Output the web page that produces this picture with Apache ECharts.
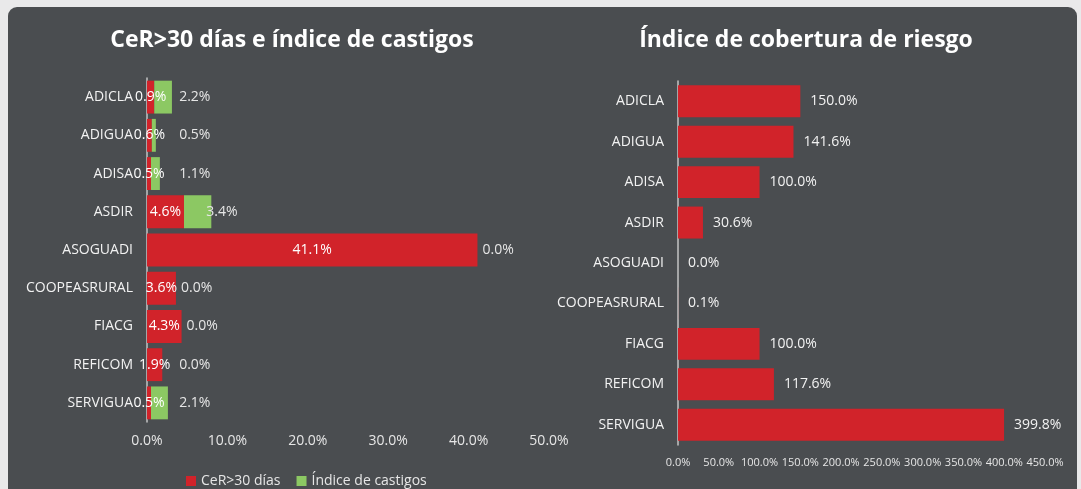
<!DOCTYPE html>
<html>
<head>
<meta charset="utf-8">
<script src="https://cdn.jsdelivr.net/npm/echarts@6/dist/echarts.min.js"></script>
<style>
  html, body { margin: 0; padding: 0; background: #e9e9ea; }
  #panel {
    position: absolute; left: 8px; top: 7px; width: 1069px; height: 500px;
    background: #4a4d50; border-radius: 9px;
  }
  #main { position: absolute; left: 0; top: 0; width: 1081px; height: 489px; }
</style>
</head>
<body>
<div id="panel"></div>
<div id="main"></div>
<script>
// categorias (mismo orden en ambos graficos)
var categorias = ['ADICLA', 'ADIGUA', 'ADISA', 'ASDIR', 'ASOGUADI', 'COOPEASRURAL', 'FIACG', 'REFICOM', 'SERVIGUA'];
// CeR>30 dias (%)
var cer30 = [0.9, 0.6, 0.5, 4.6, 41.1, 3.6, 4.3, 1.9, 0.5];
// indice de castigos (%)
var castigos = [2.2, 0.5, 1.1, 3.4, 0.0, 0.0, 0.0, 0.0, 2.1];
// indice de cobertura de riesgo (%)
var cobertura = [150.0, 141.6, 100.0, 30.6, 0.0, 0.1, 100.0, 117.6, 399.8];

var ROJO = '#d1232a';
var VERDE = '#8cc863';
var FUENTE = '"Open Sans", sans-serif';

var chart = echarts.init(document.getElementById('main'));

function pct(v) { return Number(v).toFixed(1) + '%'; }

var option = {
  backgroundColor: 'transparent',
  textStyle: { fontFamily: FUENTE },
  title: [
    {
      text: 'CeR>30 días e índice de castigos',
      left: 287, top: 24, textAlign: 'center',
      textStyle: { color: '#ffffff', fontSize: 23, fontWeight: 'bold', fontFamily: FUENTE }
    },
    {
      text: 'Índice de cobertura de riesgo',
      left: 801, top: 24, textAlign: 'center',
      textStyle: { color: '#ffffff', fontSize: 23, fontWeight: 'bold', fontFamily: FUENTE }
    }
  ],
  legend: {
    data: ['CeR>30 días', 'Índice de castigos'],
    left: 181, top: 469,
    icon: 'rect', itemWidth: 10, itemHeight: 10, itemGap: 16,
    textStyle: { color: '#e6e6e6', fontSize: 14, fontFamily: FUENTE }
  },
  grid: [
    { left: 147, top: 78, width: 402, height: 344 },
    { left: 678, top: 81, width: 367, height: 364 }
  ],
  xAxis: [
    {
      gridIndex: 0, type: 'value', min: 0, max: 50, interval: 10,
      axisLine: { show: false }, axisTick: { show: false }, splitLine: { show: false },
      axisLabel: { color: '#e6e6e6', fontSize: 14, margin: 12, formatter: pct }
    },
    {
      gridIndex: 1, type: 'value', min: 0, max: 450, interval: 50,
      axisLine: { show: false }, axisTick: { show: false }, splitLine: { show: false },
      axisLabel: { color: '#e6e6e6', fontSize: 11, margin: 12, formatter: pct }
    }
  ],
  yAxis: [
    {
      gridIndex: 0, type: 'category', data: categorias, inverse: true,
      axisLine: { show: true, lineStyle: { color: '#c4c4c4', width: 1.5 } },
      axisTick: { show: false },
      axisLabel: { color: '#f2f2f2', fontSize: 14, margin: 14 }
    },
    {
      gridIndex: 1, type: 'category', data: categorias, inverse: true,
      axisLine: { show: true, lineStyle: { color: '#c4c4c4', width: 1.5 } },
      axisTick: { show: false },
      axisLabel: { color: '#f2f2f2', fontSize: 14, margin: 14 }
    }
  ],
  series: [
    {
      name: 'CeR>30 días', type: 'bar', stack: 'izq',
      xAxisIndex: 0, yAxisIndex: 0,
      data: cer30, barCategoryGap: '14%',
      itemStyle: { color: ROJO },
      label: {
        show: true, position: 'inside', color: '#ffffff', fontSize: 14,
        formatter: function (p) { return pct(p.value); }
      }
    },
    {
      name: 'Índice de castigos', type: 'bar', stack: 'izq',
      xAxisIndex: 0, yAxisIndex: 0,
      data: castigos, barCategoryGap: '14%',
      itemStyle: { color: VERDE },
      label: {
        show: true, position: 'right', distance: 5, color: '#e6e6e6', fontSize: 14,
        formatter: function (p) { return pct(p.value); }
      }
    },
    {
      name: 'Cobertura', type: 'bar',
      xAxisIndex: 1, yAxisIndex: 1,
      data: cobertura, barCategoryGap: '21%',
      itemStyle: { color: ROJO },
      label: {
        show: true, position: 'right', distance: 10, color: '#f2f2f2', fontSize: 14,
        formatter: function (p) { return pct(p.value); }
      }
    }
  ]
};

chart.setOption(option);

// etiquetas de castigos: alineadas a partir del 4% cuando la barra es corta
var minPx = chart.convertToPixel({ xAxisIndex: 0 }, 4);
var datosCastigos = castigos.map(function (v, i) {
  var fin = chart.convertToPixel({ xAxisIndex: 0 }, cer30[i] + v) + 5;
  var off = (i === 3) ? -10 : Math.max(0, minPx - fin);
  return { value: v, label: { offset: [off, 0] } };
});
chart.setOption({ series: [{}, { data: datosCastigos }, {}] });
</script>
</body>
</html>
